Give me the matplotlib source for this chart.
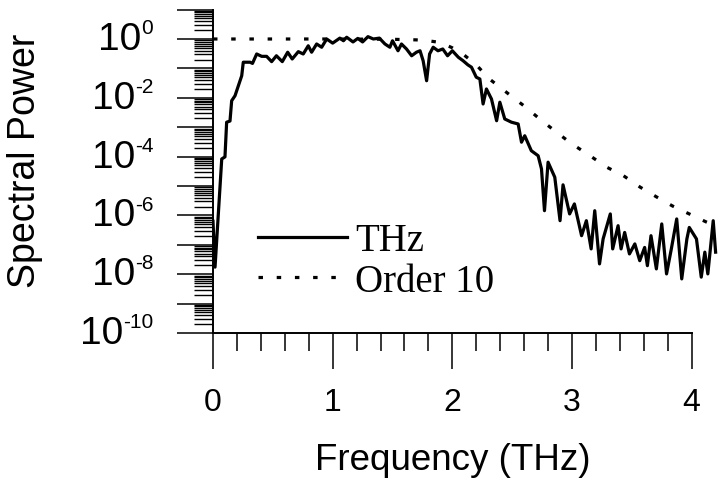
import numpy as np
import matplotlib
matplotlib.use("Agg")
from matplotlib import pyplot as plt
from matplotlib.ticker import LogLocator, FixedLocator, NullFormatter

plt.rcParams['font.family'] = ['Liberation Sans', 'DejaVu Sans']

# measured spectrum (frequency in THz, log10 of spectral power)
thz_freq = [0.0, 0.017, 0.073, 0.10, 0.114, 0.142, 0.156, 0.184, 0.24, 0.253,
            0.31, 0.33, 0.365, 0.407, 0.448, 0.49, 0.53, 0.579, 0.624, 0.662,
            0.713, 0.754, 0.796, 0.824, 0.866, 0.908, 0.95, 1.0, 1.06, 1.09,
            1.117, 1.17, 1.21, 1.25, 1.295, 1.34, 1.39, 1.437, 1.478, 1.50,
            1.546, 1.575, 1.617, 1.66, 1.70, 1.73, 1.756, 1.785, 1.81, 1.84,
            1.88, 1.92, 1.96, 2.0, 2.05, 2.09, 2.13, 2.16, 2.20, 2.23,
            2.257, 2.285, 2.327, 2.37, 2.397, 2.438, 2.494, 2.55, 2.578, 2.605,
            2.66, 2.717, 2.745, 2.77, 2.80, 2.856, 2.90, 2.925, 2.98, 3.02,
            3.08, 3.12, 3.16, 3.19, 3.23, 3.26, 3.32, 3.34, 3.385, 3.41,
            3.44, 3.48, 3.525, 3.566, 3.607, 3.63, 3.66, 3.705, 3.75, 3.79,
            3.83, 3.875, 3.917, 3.96, 3.98, 4.04, 4.08, 4.11, 4.135, 4.18,
            4.20]
thz_log = [-6.2, -7.76, -4.08, -4.01, -2.83, -2.79, -2.10, -1.93, -1.25, -0.79,
           -0.79, -0.83, -0.51, -0.59, -0.59, -0.77, -0.57, -0.77, -0.45, -0.68,
           -0.43, -0.51, -0.23, -0.45, -0.17, -0.28, 0.0, -0.14, 0.03, -0.06,
           0.06, -0.10, 0.02, -0.10, 0.08, 0.0, 0.03, -0.17, -0.28, -0.06,
           -0.40, -0.17, -0.34, -0.57, -0.45, -0.40, -0.74, -1.42, -0.51, -0.28,
           -0.40, -0.34, -0.57, -0.40, -0.62, -0.74, -0.88, -0.96, -1.30, -1.36,
           -2.21, -1.70, -2.04, -2.78, -2.15, -2.72, -2.83, -2.89, -3.51, -3.29,
           -3.80, -3.97, -4.42, -5.84, -4.19, -4.70, -6.18, -4.96, -5.95, -5.61,
           -6.69, -6.18, -7.14, -5.84, -7.65, -6.80, -5.95, -7.14, -6.35, -7.14,
           -6.58, -7.31, -6.97, -7.54, -7.09, -7.71, -6.69, -7.82, -6.29, -7.99,
           -7.14, -6.12, -8.16, -6.80, -6.41, -6.80, -8.10, -7.25, -7.99, -6.18,
           -7.25]

# order 10 filter curve
ord_freq = [0.0, 1.0, 1.5, 1.7, 1.8, 1.9, 2.0, 2.1, 2.2, 2.31, 2.47, 2.61, 2.73,
            2.87, 3.0, 3.15, 3.29, 3.43, 3.57, 3.71, 3.84, 3.98, 4.12, 4.20]
ord_log = [0.0, 0.0, -0.01, -0.03, -0.06, -0.12, -0.30, -0.55, -0.88, -1.36, -1.87,
           -2.31, -2.72, -3.17, -3.57, -3.97, -4.36, -4.65, -5.04, -5.38, -5.68,
           -5.95, -6.22, -6.35]

x_ticks = [0, 1, 2, 3, 4]
y_label_exps = [0, -2, -4, -6, -8, -10]

fig = plt.figure(figsize=(7.26, 4.85), dpi=100)
ax = fig.add_axes([213/726, (485-334)/485, (718-213)/726, (334-10.6)/485])

ax.plot(thz_freq, 10.0**np.array(thz_log), color='black', lw=2.3, label='THz')
ax.plot(ord_freq, 10.0**np.array(ord_log), color='black', lw=2.3,
        linestyle=(0, (1.4, 4.3)), label='Order 10')

ax.set_yscale('log')
ax.set_xlim(0, 4.22)
ax.set_ylim(1e-10, 1e1)

for s in ['top', 'right']:
    ax.spines[s].set_visible(False)
ax.spines['bottom'].set_bounds(0, 4)
ax.spines['left'].set_linewidth(1.4)
ax.spines['bottom'].set_linewidth(1.4)

ax.set_xticks(x_ticks)
ax.xaxis.set_minor_locator(FixedLocator(np.arange(0, 4.01, 0.2)))
ax.yaxis.set_major_locator(FixedLocator([10.0**k for k in range(-10, 2)]))
ax.yaxis.set_minor_locator(LogLocator(base=10, subs=np.arange(2, 10), numticks=30))
ax.yaxis.set_major_formatter(NullFormatter())
ax.yaxis.set_minor_formatter(NullFormatter())

ax.tick_params(axis='x', which='major', direction='out', length=26, width=1.1,
               labelsize=23, pad=13)
ax.tick_params(axis='x', which='minor', direction='out', length=13, width=1.1)
ax.tick_params(axis='y', which='major', direction='out', length=26, width=1.1)
ax.tick_params(axis='y', which='minor', direction='out', length=14, width=1.0)

# y tick labels: "10" with a small exponent
for e in y_label_exps:
    sup = ax.annotate('%d' % e if e else '0', xy=(0, 10.0**e),
                      xycoords=('axes fraction', 'data'), xytext=(-43, 15),
                      textcoords='offset points', ha='right', va='top',
                      fontsize=15)
    ax.annotate('10', xy=(0, 10.0**e), xycoords=(sup, 'data'),
                xytext=(0, 0), textcoords='offset points',
                ha='right', va='center', fontsize=28)

ax.set_xlabel('Frequency (THz)', fontsize=26.5)
ax.xaxis.set_label_coords(2.0/4.22, -0.338)
ax.set_ylabel('Spectral Power', fontsize=27)
ax.yaxis.set_label_coords(-0.337, 0.535)

ax.legend(loc='center left', bbox_to_anchor=((258-213)/505, (334-262)/323.4),
          frameon=False, prop={'family': 'Liberation Serif', 'size': 28},
          handlelength=2.3, handletextpad=0.2, labelspacing=0.08,
          borderpad=0, borderaxespad=0)

fig.savefig('out.png', dpi=100)
